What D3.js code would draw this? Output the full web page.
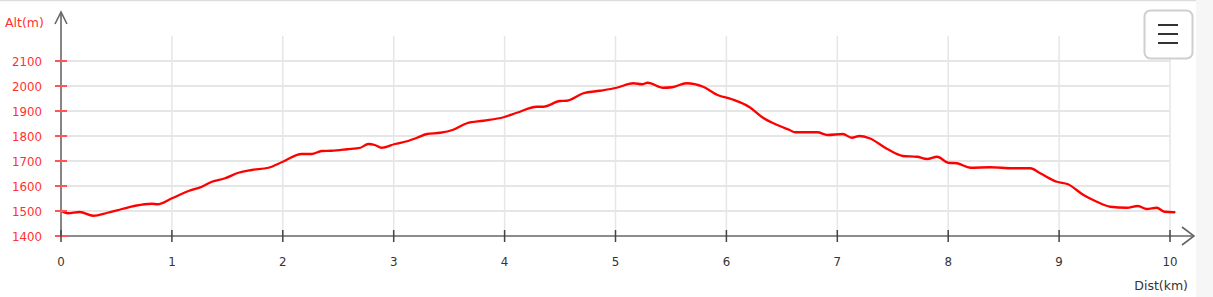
<!DOCTYPE html>
<html><head><meta charset="utf-8">
<script src="https://cdn.jsdelivr.net/npm/d3@7"></script>
<style>html,body{margin:0;padding:0;background:#fff;overflow:hidden}</style>
</head><body>
<svg id="c" width="1213" height="297"></svg>
<script>
const distKm = [0.00,0.06,0.17,0.29,0.42,0.55,0.67,0.82,0.87,1.00,1.15,1.27,1.36,1.48,1.60,1.72,1.87,2.00,2.17,2.26,2.35,2.44,2.58,2.70,2.77,2.83,2.89,3.01,3.13,3.21,3.30,3.42,3.53,3.66,3.81,3.99,4.11,4.29,4.35,4.50,4.56,4.71,4.86,5.01,5.16,5.24,5.29,5.43,5.51,5.64,5.79,5.92,6.05,6.21,6.33,6.48,6.57,6.62,6.82,6.91,7.05,7.13,7.20,7.29,7.45,7.59,7.72,7.81,7.90,8.00,8.08,8.20,8.38,8.58,8.74,8.83,8.98,9.08,9.22,9.34,9.46,9.61,9.71,9.79,9.88,9.95,10.04];
const altM = [1500,1491,1496,1481,1493,1508,1521,1529,1527,1551,1580,1597,1617,1631,1653,1664,1673,1697,1728,1728,1740,1741,1747,1753,1768,1764,1753,1768,1780,1793,1808,1813,1824,1851,1861,1875,1893,1917,1917,1940,1941,1971,1981,1993,2011,2007,2013,1993,1995,2011,1997,1964,1947,1915,1873,1840,1824,1815,1815,1804,1808,1793,1800,1791,1748,1720,1717,1708,1717,1693,1691,1673,1675,1671,1671,1651,1617,1607,1564,1537,1517,1513,1520,1508,1513,1497,1495];
const xTicks = [0,1,2,3,4,5,6,7,8,9,10];
const yTicks = [1400,1500,1600,1700,1800,1900,2000,2100];
const xTitle = "Dist(km)";
const yTitle = "Alt(m)";

const svg = d3.select("#c");
const x = d3.scaleLinear().domain([0,10]).range([61,1170]);
const y = d3.scaleLinear().domain([1400,2200]).range([236,36]);
const font = "DejaVu Sans, Verdana, sans-serif";

// page chrome
svg.append("rect").attr("x",1196).attr("y",0).attr("width",17).attr("height",297).attr("fill","#f6f6f6");
svg.append("line").attr("x1",0).attr("x2",1196).attr("y1",0.5).attr("y2",0.5).attr("stroke","#dcdcdc").attr("stroke-width",1.5);

// grid
const g = svg.append("g");
g.selectAll("line.h").data(yTicks.filter(d=>d>1400)).join("line")
  .attr("x1",x(0)).attr("x2",x(10)).attr("y1",d=>y(d)).attr("y2",d=>y(d))
  .attr("stroke","#e6e6e6").attr("stroke-width",2);
g.selectAll("line.v").data(xTicks.filter(d=>d>0)).join("line")
  .attr("x1",d=>x(d)).attr("x2",d=>x(d)).attr("y1",y(2200)).attr("y2",y(1400))
  .attr("stroke","#e6e6e6").attr("stroke-width",1.5);

// profile line
const line = d3.line().x((d,i)=>x(distKm[i])).y(d=>y(d)).curve(d3.curveMonotoneX);
svg.append("path").datum(altM).attr("d",line).attr("fill","none")
  .attr("stroke","#ff0000").attr("stroke-width",2.3).attr("stroke-linejoin","round").attr("stroke-linecap","round");

// axes
const ax = svg.append("g").attr("stroke","#666").attr("fill","none").attr("stroke-width",1.6);
ax.append("line").attr("x1",x(0)).attr("x2",x(0)).attr("y1",12).attr("y2",y(1400));
ax.append("path").attr("d",`M${x(0)-6},24 L${x(0)},12 L${x(0)+6},24`);
ax.append("line").attr("x1",x(0)).attr("x2",1194).attr("y1",y(1400)).attr("y2",y(1400));
ax.append("path").attr("d",`M1182,${y(1400)-9} L1194,${y(1400)} L1182,${y(1400)+9}`);

// y ticks
svg.selectAll("line.yt").data(yTicks).join("line")
  .attr("x1",55).attr("x2",67).attr("y1",d=>y(d)).attr("y2",d=>y(d))
  .attr("stroke","#ff5555").attr("stroke-width",2);
svg.selectAll("text.yl").data(yTicks).join("text")
  .attr("x",42).attr("y",d=>y(d)+4.5).attr("text-anchor","end")
  .attr("font-family",font).attr("font-size",11.8).attr("fill","#ff3030").text(d=>d);

// x ticks
svg.selectAll("line.xt").data(xTicks).join("line")
  .attr("x1",d=>x(d)).attr("x2",d=>x(d)).attr("y1",230).attr("y2",242)
  .attr("stroke","#444").attr("stroke-width",1.5);
svg.selectAll("text.xl").data(xTicks).join("text")
  .attr("x",d=>x(d)).attr("y",265.5).attr("text-anchor","middle")
  .attr("font-family",font).attr("font-size",11.8).attr("fill","#333").text(d=>d);

// titles
svg.append("text").attr("x",5).attr("y",27).attr("font-family",font).attr("font-size",12.5)
  .attr("fill","#ff3030").text(yTitle);
svg.append("text").attr("x",1188).attr("y",290).attr("text-anchor","end").attr("font-family",font)
  .attr("font-size",12.5).attr("fill","#333").text(xTitle);

// menu button
const b = svg.append("g");
b.append("rect").attr("x",1144.5).attr("y",10.5).attr("width",48).attr("height",48).attr("rx",6)
  .attr("fill","#fff").attr("stroke","#cfcfcf").attr("stroke-width",2);
b.selectAll("line").data([25,34,43]).join("line")
  .attr("x1",1158).attr("x2",1178).attr("y1",d=>d).attr("y2",d=>d)
  .attr("stroke","#333").attr("stroke-width",2);
</script>
</body></html>
